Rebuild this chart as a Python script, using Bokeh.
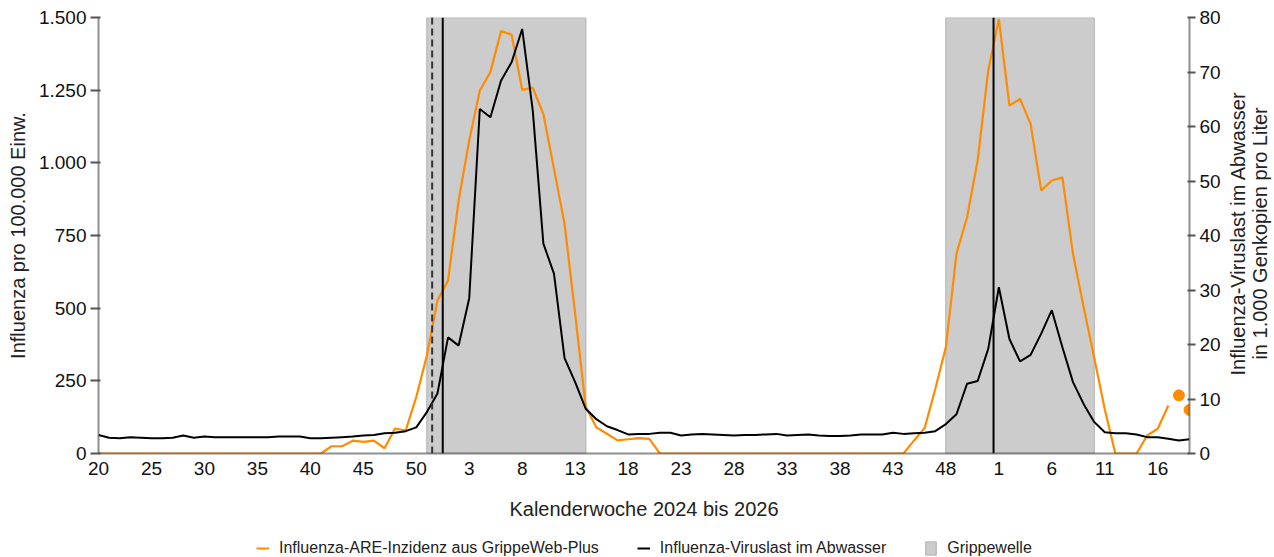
import math
from bokeh.plotting import figure
from bokeh.layouts import row, column
from bokeh.models import Range1d, LinearAxis, FixedTicker, Legend, LegendItem, Span, Label
from bokeh.embed import file_html
from bokeh.resources import INLINE

# ---------------- data ----------------
weeks_2024 = list(range(20, 53))
weeks_2025 = list(range(1, 53))
weeks_2026 = list(range(1, 20))
week_labels = weeks_2024 + weeks_2025 + weeks_2026
week_keys = ([f"2024-W{w}" for w in weeks_2024] + [f"2025-W{w}" for w in weeks_2025]
             + [f"2026-W{w}" for w in weeks_2026])

# Influenza-ARE-Inzidenz aus GrippeWeb-Plus (pro 100.000), 2024-W20 .. 2026-W17
are_incidence = [
    0, 0, 0, 0, 0, 0, 0, 0, 0, 0, 0, 0, 0, 0, 0, 0, 0, 0, 0, 0, 0,
    0, 25, 25, 44, 40, 44, 18, 86, 79, 194, 337, 526,
    595, 870, 1077, 1249, 1312, 1453, 1441, 1251, 1258, 1168, 980, 790, 480, 160,
    90, 68, 45, 49, 53, 50,
    0, 0, 0, 0, 0, 0, 0, 0, 0, 0, 0, 0, 0, 0, 0, 0, 0, 0, 0, 0, 0, 0, 0, 0,
    45, 88, 222, 366, 687, 813, 1008, 1318,
    1495, 1197, 1220, 1134, 905, 939, 950, 687, 505, 330, 152, 0, 0, 0, 62, 85, 165,
]
# preliminary values (shown as single points)
are_prelim_weeks = ["2026-W18", "2026-W19"]
are_prelim = [200, 150]

# Influenza-Viruslast im Abwasser (1.000 Genkopien pro Liter), 2024-W20 .. 2026-W19
viral_load = [
    3.4, 2.9, 2.8, 3.0, 2.9, 2.8, 2.8, 2.9, 3.3, 2.9, 3.1, 3.0, 3.0, 3.0, 3.0, 3.0,
    3.0, 3.1, 3.1, 3.1, 2.8, 2.8, 2.9, 3.0, 3.1, 3.3, 3.4, 3.7, 3.8, 4.1, 4.8, 7.6,
    11.0,
    21.3, 19.8, 28.5, 63.2, 61.7, 68.4, 71.8, 77.9, 62.9, 38.5, 33.0, 17.5, 13.1, 8.2,
    6.3, 5.0, 4.3, 3.5, 3.6, 3.6, 3.8, 3.8, 3.3, 3.5, 3.6, 3.5, 3.4, 3.3, 3.4, 3.4,
    3.5, 3.6, 3.3, 3.4, 3.5, 3.3, 3.2, 3.2, 3.3, 3.5, 3.5, 3.5, 3.8, 3.6, 3.7, 3.8,
    4.1, 5.4, 7.2, 12.8, 13.3, 19.2,
    30.5, 21.0, 16.9, 18.1, 22.0, 26.3, 19.5, 13.1, 9.1, 5.8, 3.9, 3.7, 3.7, 3.5,
    3.0, 3.0, 2.7, 2.4, 2.6,
]

# Grippewellen
wave_start = ["2024-W51", "2025-W48"]
wave_end = ["2025-W14", "2026-W10"]
# Markierungen (zwischen zwei Wochen)
marker_solid = ["2024-W52", "2025-W52"]
marker_dashed = ["2024-W51"]

left_ticks = [0, 250, 500, 750, 1000, 1250, 1500]
left_tick_labels = ["0", "250", "500", "750", "1.000", "1.250", "1.500"]
right_ticks = [0, 10, 20, 30, 40, 50, 60, 70, 80]
right_title = ["Influenza-Viruslast im Abwasser", "in 1.000 Genkopien pro Liter"]
legend_labels = ["Influenza-ARE-Inzidenz aus GrippeWeb-Plus",
                 "Influenza-Viruslast im Abwasser", "Grippewelle"]

# ---------------- styling constants ----------------
idx = {k: i for i, k in enumerate(week_keys)}
FONT = "Liberation Sans"
ORANGE = "#ff8c00"
WAVE_FILL = "#cccccc"
WAVE_LINE = "#bdbdbd"
TEXT = "#222222"
x_max = len(week_keys) - 1

MAIN_W, MAIN_H = 1223, 525
TITLE_W = 1274 - MAIN_W
LEG_H = 557 - MAIN_H

# ---------------- main plot ----------------
p = figure(width=MAIN_W, height=MAIN_H, output_backend="svg", toolbar_location=None,
           x_range=Range1d(0, x_max), y_range=Range1d(0, 1500),
           min_border_left=98, min_border_right=34, min_border_top=17, min_border_bottom=72,
           background_fill_color="white", border_fill_color="white")
p.extra_y_ranges = {"virus": Range1d(0, 80)}
p.outline_line_color = None
p.xgrid.visible = False
p.ygrid.visible = False

p.quad(left=[idx[s] for s in wave_start], right=[idx[e] for e in wave_end],
       bottom=0, top=1500, fill_color=WAVE_FILL, line_color=WAVE_LINE, line_width=1.5)

for k in marker_dashed:
    p.add_layout(Span(location=idx[k] + 0.5, dimension="height", line_color="#333333",
                      line_width=2, line_dash="7 4", level="glyph"))
for k in marker_solid:
    p.add_layout(Span(location=idx[k] + 0.5, dimension="height", line_color="#000000",
                      line_width=2, level="glyph"))

p.line(list(range(len(are_incidence))), are_incidence, line_color=ORANGE, line_width=2.2)
p.scatter([idx[k] for k in are_prelim_weeks], are_prelim, size=11, color=ORANGE)
p.line(list(range(len(viral_load))), viral_load, y_range_name="virus",
       line_color="black", line_width=2)

right = LinearAxis(y_range_name="virus")
p.add_layout(right, "right")

p.xaxis.ticker = FixedTicker(ticks=list(range(0, 101, 5)))
p.xaxis.major_label_overrides = {i: str(week_labels[i]) for i in range(0, 101, 5)}
p.xaxis.axis_label = "Kalenderwoche 2024 bis 2026"
p.xaxis.major_tick_out = 0
p.xaxis.major_tick_in = 0
p.xaxis.major_label_standoff = 8
p.xaxis.axis_label_standoff = 20

left = p.yaxis[0]
left.ticker = FixedTicker(ticks=left_ticks)
left.major_label_overrides = dict(zip(left_ticks, left_tick_labels))
left.axis_label = "Influenza pro 100.000 Einw."
left.major_tick_out = 8
left.major_label_standoff = 4
left.axis_label_standoff = 7

right.ticker = FixedTicker(ticks=right_ticks)
right.major_tick_out = 6
right.major_label_standoff = 4

for ax in [p.xaxis[0], left, right]:
    ax.axis_line_color = "#333333"
    ax.axis_line_alpha = 0.55
    ax.axis_line_width = 2
    ax.major_tick_line_color = "#555555"
    ax.major_tick_line_width = 2
    ax.minor_tick_line_color = None
    ax.major_label_text_font = FONT
    ax.major_label_text_font_size = "19px"
    ax.major_label_text_color = "#111111"
    ax.axis_label_text_font = FONT
    ax.axis_label_text_font_size = "20px"
    ax.axis_label_text_font_style = "normal"
    ax.axis_label_text_color = TEXT

# ---------------- right axis title (separate strip) ----------------
t = figure(width=TITLE_W, height=MAIN_H, output_backend="svg", toolbar_location=None,
           x_range=Range1d(0, TITLE_W), y_range=Range1d(0, MAIN_H), min_border=0,
           x_axis_location=None, y_axis_location=None)
t.outline_line_color = None
t.grid.visible = False
for i, line in enumerate(right_title):
    t.add_layout(Label(x=14 + 22 * i, y=MAIN_H - 260, text=line, angle=math.pi / 2,
                       text_align="center", text_baseline="middle",
                       text_font=FONT, text_font_size="20px", text_color=TEXT))

# ---------------- legend strip ----------------
lg = figure(width=1274, height=LEG_H, output_backend="svg", toolbar_location=None,
            x_range=Range1d(0, 1), y_range=Range1d(0, 1), min_border=0,
            x_axis_location=None, y_axis_location=None)
lg.outline_line_color = None
lg.grid.visible = False
# placeholder glyphs outside the visible range (only their legend symbols are shown)
r1 = lg.line([5, 6], [5, 6], line_color=ORANGE, line_width=2)
r2 = lg.line([5, 6], [5, 6], line_color="black", line_width=2)
r3 = lg.quad(left=[5], right=[6], bottom=[5], top=[6], fill_color=WAVE_FILL,
             line_color=WAVE_LINE, line_width=1.5)
legend = Legend(items=[LegendItem(label=legend_labels[0], renderers=[r1]),
                       LegendItem(label=legend_labels[1], renderers=[r2]),
                       LegendItem(label=legend_labels[2], renderers=[r3])],
                orientation="horizontal", location=(256, 0))
legend.label_text_font = FONT
legend.label_text_font_size = "16px"
legend.label_text_color = TEXT
legend.glyph_width = 13
legend.glyph_height = 16
legend.label_standoff = 10
legend.spacing = 38
legend.padding = 2
legend.margin = 0
legend.border_line_color = None
legend.background_fill_alpha = 0
lg.add_layout(legend, "center")

layout = column(row(p, t), lg)
open("out.html", "w").write(file_html(layout, INLINE))
